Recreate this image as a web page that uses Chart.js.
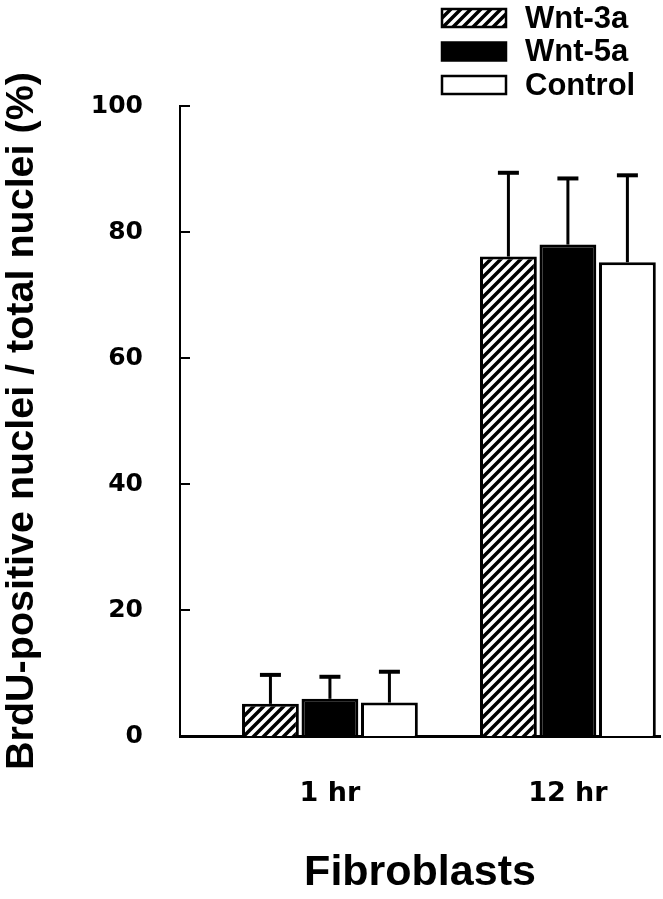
<!DOCTYPE html>
<html>
<head>
<meta charset="utf-8">
<script src="https://cdn.jsdelivr.net/npm/chart.js@4"></script>
<style>
  html, body { margin: 0; padding: 0; background: #fff; }
  canvas { display: block; }
</style>
</head>
<body>
<canvas id="chart" width="663" height="899"></canvas>
<script>
// values
const categories = ['1 hr', '12 hr'];
const seriesNames = ['Wnt-3a', 'Wnt-5a', 'Control'];
const wnt3a = [5.1, 76.1];
const wnt5a = [5.9, 78.0];
const control = [5.3, 75.2];
const wnt3aErr = [4.6, 13.3];
const wnt5aErr = [3.5, 10.5];
const controlErr = [4.9, 13.8];
const yTicks = [0, 20, 40, 60, 80, 100];

// diagonal hatch for the Wnt-3a bars
function makeHatch() {
    var c = document.createElement('canvas');
    c.width = 10; c.height = 10;
    var g = c.getContext('2d');
    g.fillStyle = '#fff';
    g.fillRect(0, 0, 10, 10);
    g.strokeStyle = '#000';
    g.lineWidth = 3.5;
    g.beginPath();
    g.moveTo(0, 10); g.lineTo(10, 0);
    g.moveTo(-5, 5); g.lineTo(5, -5);
    g.moveTo(5, 15); g.lineTo(15, 5);
    g.stroke();
    return document.getElementById('chart').getContext('2d').createPattern(c, 'repeat');
}

const hatch = makeHatch();
const toPoints = (arr) => arr.map((v, i) => ({x: i, y: v}));

// upward-only error bars with a cap
const errorBars = {
    id: 'errorBars',
    afterDatasetsDraw(chart) {
        const ctx = chart.ctx;
        const y = chart.scales.y;
        chart.data.datasets.forEach((ds, di) => {
            const meta = chart.getDatasetMeta(di);
            meta.data.forEach((bar, i) => {
                const top = y.getPixelForValue(ds.data[i].y + ds.errors[i]);
                ctx.save();
                ctx.strokeStyle = '#000';
                ctx.lineWidth = 3;
                ctx.beginPath();
                ctx.moveTo(bar.x, bar.y);
                ctx.lineTo(bar.x, top);
                ctx.stroke();
                ctx.lineWidth = 4;
                ctx.beginPath();
                ctx.moveTo(bar.x - 10.5, top);
                ctx.lineTo(bar.x + 10.5, top);
                ctx.stroke();
                ctx.restore();
            });
        });
    }
};

// small inward tick marks on the y axis
const innerTicks = {
    id: 'innerTicks',
    afterDraw(chart) {
        const ctx = chart.ctx;
        const y = chart.scales.y;
        const left = chart.chartArea.left;
        ctx.save();
        ctx.strokeStyle = '#000';
        ctx.lineWidth = 2;
        for (const t of y.ticks) {
            const py = y.getPixelForValue(t.value);
            ctx.beginPath();
            ctx.moveTo(left, py);
            ctx.lineTo(left + 10, py);
            ctx.stroke();
        }
        ctx.restore();
    }
};

// stacked legend at top right
const stackedLegend = {
    id: 'stackedLegend',
    afterDraw(chart) {
        const ctx = chart.ctx;
        ctx.save();
        ctx.font = 'bold 31px "Liberation Sans", Arial, sans-serif';
        ctx.textBaseline = 'middle';
        ctx.textAlign = 'left';
        chart.data.datasets.forEach((ds, i) => {
            const cy = 18 + i * 33.5;
            ctx.fillStyle = ds.backgroundColor;
            ctx.fillRect(442, cy - 9, 64, 18);
            ctx.strokeStyle = '#000';
            ctx.lineWidth = 2.5;
            ctx.strokeRect(442, cy - 9, 64, 18);
            ctx.fillStyle = '#000';
            ctx.fillText(ds.label, 525, cy + 1);
        });
        ctx.restore();
    }
};

new Chart(document.getElementById('chart'), {
    type: 'bar',
    data: {
        datasets: [
            {label: seriesNames[0], data: toPoints(wnt3a), errors: wnt3aErr, backgroundColor: hatch},
            {label: seriesNames[1], data: toPoints(wnt5a), errors: wnt5aErr, backgroundColor: '#000'},
            {label: seriesNames[2], data: toPoints(control), errors: controlErr, backgroundColor: '#fff'}
        ]
    },
    options: {
        responsive: false,
        animation: false,
        layout: {padding: {top: 106, right: 3, left: 0, bottom: 0}},
        datasets: {
            bar: {
                borderColor: '#000',
                borderWidth: 3,
                categoryPercentage: 0.75,
                barPercentage: 0.955
            }
        },
        plugins: {
            legend: {display: false},
            tooltip: {enabled: false}
        },
        scales: {
            x: {
                type: 'linear',
                offset: false,
                bounds: 'data',
                min: -0.63,
                max: 1.387,
                afterFit: (scale) => { scale.height = 163; },
                afterBuildTicks: (scale) => {
                    scale.ticks = categories.map((c, i) => ({value: i}));
                },
                grid: {display: false, drawTicks: false, offset: false},
                border: {display: true, color: '#000', width: 3},
                ticks: {
                    padding: 42,
                    color: '#000',
                    font: {family: '"DejaVu Sans"', weight: 'bold', size: 27},
                    callback: (val) => categories[val]
                },
                title: {
                    display: true,
                    text: 'Fibroblasts',
                    color: '#000',
                    font: {family: '"Liberation Sans"', weight: 'bold', size: 43},
                    padding: {top: 3, bottom: 0}
                }
            },
            y: {
                min: 0,
                max: 100,
                afterFit: (scale) => { scale.width = 180; },
                afterBuildTicks: (scale) => {
                    scale.ticks = yTicks.map((v) => ({value: v}));
                },
                grid: {display: false, drawTicks: false},
                border: {display: true, color: '#000', width: 2},
                ticks: {
                    padding: 37,
                    color: '#000',
                    font: {family: '"DejaVu Sans"', weight: 'bold', size: 25}
                },
                title: {
                    display: true,
                    text: 'BrdU-positive nuclei / total nuclei (%)',
                    color: '#000',
                    font: {family: '"Liberation Sans"', weight: 'bold', size: 39.5, lineHeight: 1.1},
                    padding: {top: 0, bottom: 0}
                }
            }
        }
    },
    plugins: [errorBars, innerTicks, stackedLegend]
});
</script>
</body>
</html>
